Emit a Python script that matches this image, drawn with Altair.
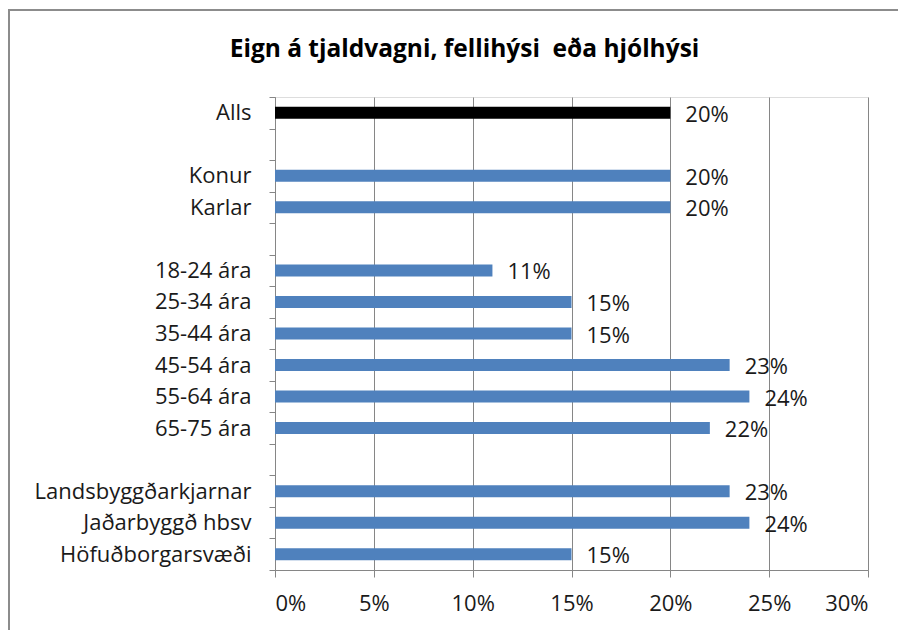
import altair as alt
import pandas as pd

categories = ["Alls", "Konur", "Karlar", "18-24 ára", "25-34 ára", "35-44 ára",
              "45-54 ára", "55-64 ára", "65-75 ára", "Landsbyggðarkjarnar",
              "Jaðarbyggð hbsv", "Höfuðborgarsvæði"]
values = [0.20, 0.20, 0.20, 0.11, 0.15, 0.15, 0.23, 0.24, 0.22, 0.23, 0.24, 0.15]
groups = ["Alls", "Hópur", "Hópur", "Hópur", "Hópur", "Hópur",
          "Hópur", "Hópur", "Hópur", "Hópur", "Hópur", "Hópur"]
row_order = ["Alls", "_1", "Konur", "Karlar", "_2", "18-24 ára", "25-34 ára",
             "35-44 ára", "45-54 ára", "55-64 ára", "65-75 ára", "_3",
             "Landsbyggðarkjarnar", "Jaðarbyggð hbsv", "Höfuðborgarsvæði"]
x_ticks = [0, 0.05, 0.10, 0.15, 0.20, 0.25, 0.30]
title_text = "Eign á tjaldvagni, fellihýsi\u00a0 eða hjólhýsi"

df = pd.DataFrame({"cat": categories, "val": values, "grp": groups})

FONT = "Open Sans"
FS = 22
W, H = 593, 473

y_enc = alt.Y("cat:N", sort=row_order,
              scale=alt.Scale(domain=row_order, paddingInner=0, paddingOuter=0),
              axis=alt.Axis(title=None, tickBand="extent", tickSize=6,
                            tickColor="#868686", domainColor="#868686",
                            labelPadding=18, labelFontSize=FS, labelFont=FONT,
                            labelColor="#1a1a1a", labelFontWeight="normal",
                            labelLimit=320,
                            labelExpr="indexof(datum.label, '_') == 0 ? '' : datum.label",
                            grid=False))

x_enc = alt.X("val:Q", scale=alt.Scale(domain=[0, 0.30], nice=False),
              axis=alt.Axis(title=None, format=".0%", values=x_ticks, grid=True,
                            gridColor="#868686", tickColor="#868686",
                            domainColor="#868686", tickSize=7, labelPadding=16,
                            labelFontSize=FS, labelFont=FONT, labelColor="#1a1a1a"))

bars = alt.Chart(df).mark_bar(size=12).encode(
    x=x_enc,
    y=y_enc,
    color=alt.Color("grp:N", scale=alt.Scale(domain=["Alls", "Hópur"],
                                             range=["#000000", "#4F81BD"]),
                    legend=None),
)

labels = alt.Chart(df).mark_text(align="left", dx=15, dy=2, fontSize=FS,
                                 font=FONT, color="#1a1a1a").encode(
    x="val:Q",
    y=alt.Y("cat:N", sort=row_order),
    text=alt.Text("val:Q", format=".0%"),
)

frame = alt.Chart(df).mark_rect(fill=None, stroke="#8c8c8c", strokeWidth=2).encode(
    x=alt.value(-266), x2=alt.value(650), y=alt.value(-87), y2=alt.value(H + 120)
)

chart = alt.layer(frame, bars, labels).properties(
    width=W, height=H,
    title=alt.Title(title_text, font=FONT,
                    fontSize=24.5, fontWeight="bold", color="#000000",
                    anchor="middle", frame="group", dx=-107, offset=-53),
    autosize=alt.AutoSizeParams(type="none"),
    padding={"left": 267, "top": 89, "right": 30, "bottom": 60},
).configure_view(stroke=None).configure(background="white")

chart.save("out.html", embed_options={"renderer": "svg", "actions": False})
